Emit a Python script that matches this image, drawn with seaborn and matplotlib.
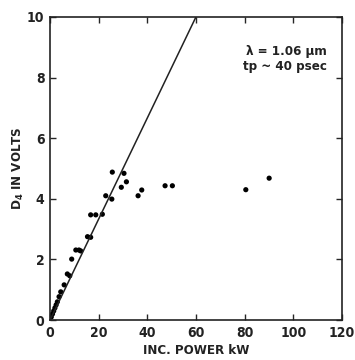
import matplotlib as mpl
import matplotlib.pyplot as plt
import seaborn as sns
import pandas as pd

# incident power (kW) and detector signal D4 (V)
power = [0.5, 1.0, 1.5, 2.0, 2.5, 3.0, 3.7, 4.4, 5.8, 7.1, 8.1, 8.9,
         10.6, 11.9, 12.6, 15.4, 16.7, 16.7, 18.8, 21.5, 22.9, 25.4,
         25.6, 29.3, 30.4, 31.4, 36.2, 37.7, 47.3, 50.3, 80.5, 90.1]
signal = [0.1, 0.2, 0.3, 0.4, 0.5, 0.6, 0.77, 0.93, 1.16, 1.52, 1.46, 2.01,
          2.31, 2.31, 2.28, 2.75, 2.73, 3.47, 3.47, 3.49, 4.10, 3.99,
          4.88, 4.38, 4.84, 4.56, 4.10, 4.29, 4.43, 4.43, 4.30, 4.68]

# fitted straight line
fit_x = [0, 60]
fit_y = [0, 10]

xticks = [0, 20, 40, 60, 80, 100, 120]
yticks = [0, 2, 4, 6, 8, 10]

sns.set_style('ticks')
plt.rcParams['font.family'] = ['DejaVu Sans']
plt.rcParams['font.stretch'] = 'condensed'
plt.rcParams['font.weight'] = 'bold'

df = pd.DataFrame({'power': power, 'signal': signal})
fit = pd.DataFrame({'x': fit_x, 'y': fit_y})

fig = plt.figure(figsize=(3.55, 3.6), dpi=100)
ax = fig.add_axes([0.141, 0.111, 0.822, 0.842])

sns.lineplot(data=fit, x='x', y='y', ax=ax, color='#222222', lw=1.1)
sns.scatterplot(data=df, x='power', y='signal', ax=ax, color='black',
                s=14, edgecolor='none')

ax.set_xlim(0, 120)
ax.set_ylim(0, 10)
ax.set_xticks(xticks)
ax.set_yticks(yticks)
ax.tick_params(direction='in', top=True, right=True, length=4, width=1,
               labelsize=10, pad=4, labelcolor='#222222',
               labeltop=False, labelright=False)
for s in ax.spines.values():
    s.set_linewidth(1.2)
    s.set_color('#222222')

ax.set_xlabel('INC. POWER kW', fontsize=9.5, fontweight='bold',
              color='#222222', labelpad=3)
ax.set_ylabel('D$_4$ IN VOLTS', fontsize=9.5, fontweight='bold',
              color='#222222', labelpad=1)

ax.text(0.95, 0.815, 'λ = 1.06 μm\ntp ~ 40 psec', transform=ax.transAxes,
        ha='right', va='bottom', fontsize=9.5, fontweight='bold',
        color='#222222', linespacing=1.15)

plt.savefig('out.png', dpi=100)
